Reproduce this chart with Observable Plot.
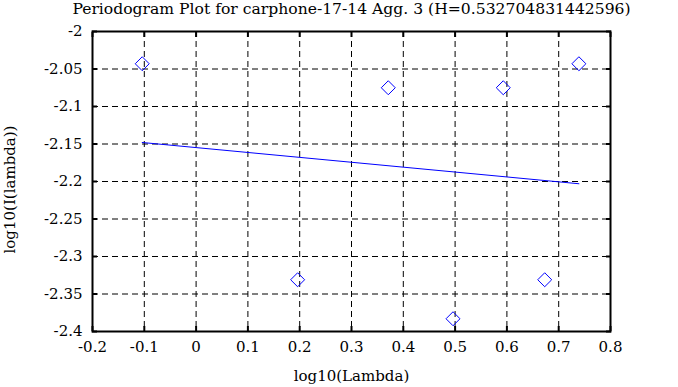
<!DOCTYPE html>
<html><head><meta charset="utf-8">
<script src="https://cdn.jsdelivr.net/npm/d3@7"></script>
<script src="https://cdn.jsdelivr.net/npm/@observablehq/plot@0.6"></script>
<style>body{margin:0;background:#fff}svg, svg text{font-family:"DejaVu Serif",serif !important;font-variant:normal !important}</style>
</head><body><div id="chart"></div>
<script>
const title = "Periodogram Plot for carphone-17-14 Agg. 3 (H=0.532704831442596)";
const xLabel = "log10(Lambda)";
const yLabel = "log10(I(lambda))";
const logLambda = [-0.104, 0.196, 0.371, 0.496, 0.593, 0.673, 0.739];
const logI = [-2.043, -2.331, -2.075, -2.383, -2.075, -2.331, -2.043];
const fitX = [-0.104, 0.739];
const fitY = [-2.148, -2.203];
const xTicks = [-0.2, -0.1, 0, 0.1, 0.2, 0.3, 0.4, 0.5, 0.6, 0.7, 0.8];
const yTicks = [-2.4, -2.35, -2.3, -2.25, -2.2, -2.15, -2.1, -2.05, -2];

const pts = logLambda.map((x, i) => ({x, y: logI[i]}));
const fit = fitX.map((x, i) => ({x, y: fitY[i]}));
const fmt = d => String(+d.toFixed(2));

const chart = Plot.plot({
  width: 678, height: 387,
  marginLeft: 92, marginRight: 68, marginTop: 31, marginBottom: 56,
  style: {fontSize: "15px", color: "black"},
  x: {domain: [-0.2, 0.8]},
  y: {domain: [-2.4, -2]},
  marks: [
    Plot.gridX(xTicks.slice(1, -1), {stroke: "black", strokeOpacity: 1, strokeDasharray: "6,4"}),
    Plot.gridY(yTicks.slice(1, -1), {stroke: "black", strokeOpacity: 1, strokeDasharray: "6,4"}),
    Plot.axisX(xTicks, {anchor: "bottom", tickSize: 0, tickPadding: 10, tickFormat: fmt, label: null, fontSize: 15}),
    Plot.axisX(xTicks, {anchor: "bottom", tickSize: -5, strokeWidth: 2, tickFormat: () => "", label: null}),
    Plot.axisX(xTicks, {anchor: "top", tickSize: -5, strokeWidth: 2, tickFormat: () => "", label: null}),
    Plot.axisY(yTicks, {anchor: "left", tickSize: 0, tickPadding: 10, tickFormat: fmt, label: null, fontSize: 15}),
    Plot.axisY(yTicks, {anchor: "left", tickSize: -5, strokeWidth: 2, tickFormat: () => "", label: null}),
    Plot.axisY(yTicks, {anchor: "right", tickSize: -5, strokeWidth: 2, tickFormat: () => "", label: null}),
    Plot.frame({stroke: "black", strokeWidth: 2}),
    Plot.line(fit, {x: "x", y: "y", stroke: "#0000ff", strokeWidth: 1}),
    Plot.dot(pts, {x: "x", y: "y", symbol: "diamond2", r: 6.3, stroke: "#0000ff", strokeWidth: 1, fill: "none"}),
    Plot.text([title], {frameAnchor: "top", dy: -29, fontSize: 15.6, fill: "black"}),
    Plot.text([xLabel], {frameAnchor: "bottom", lineAnchor: "middle", dy: 45, fontSize: 15, fill: "black"}),
    Plot.text([yLabel], {frameAnchor: "left", textAnchor: "middle", lineAnchor: "middle", rotate: -90, dx: -82, dy: 8, fontSize: 15, fill: "black"})
  ]
});
document.getElementById("chart").appendChild(chart);
</script></body></html>
